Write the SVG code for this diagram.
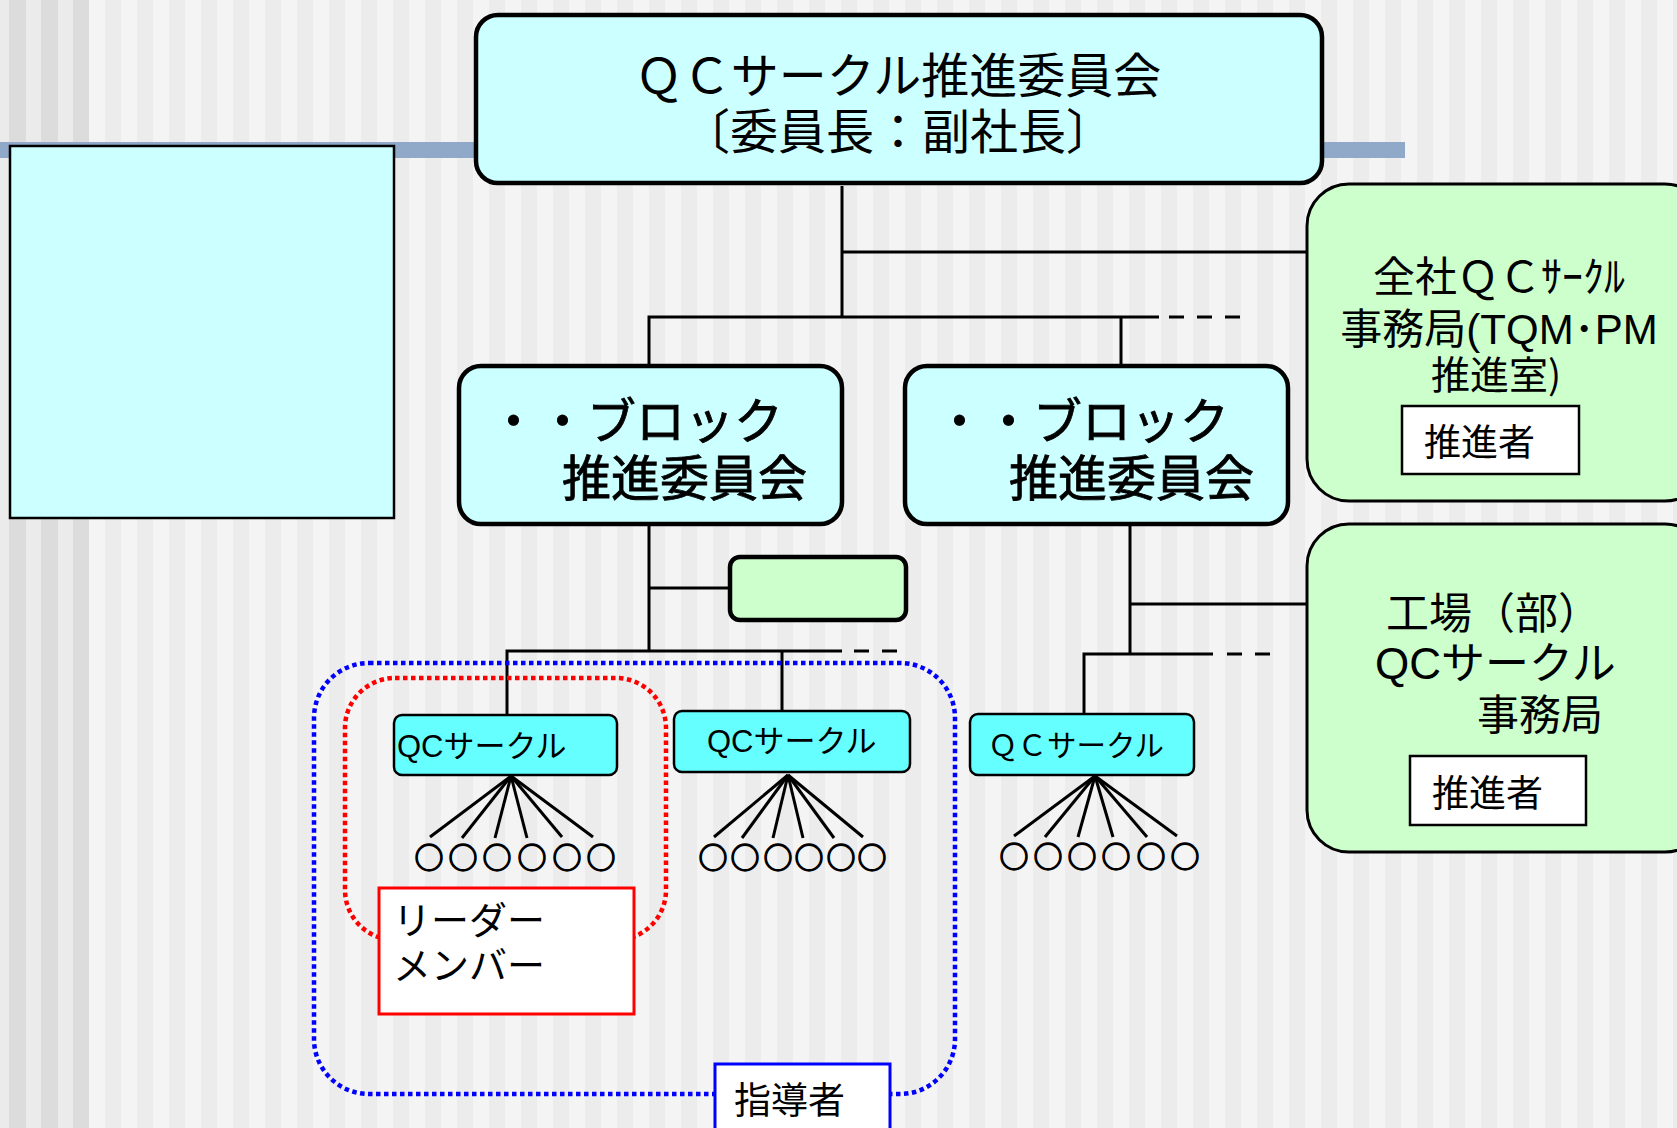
<svg xmlns="http://www.w3.org/2000/svg" width="1677" height="1128" viewBox="0 0 1677 1128">
<defs>
<pattern id="stripes" x="89" y="0" width="32" height="1128" patternUnits="userSpaceOnUse"><rect width="16" height="1128" fill="#f4f4f4"/><rect x="16" width="16" height="1128" fill="#ececec"/></pattern>
<pattern id="dstripes" x="9" y="0" width="32" height="1128" patternUnits="userSpaceOnUse"><rect width="17" height="1128" fill="#dcdcdc"/><rect x="17" width="15" height="1128" fill="#ebebeb"/></pattern>
</defs>
<style>
text{font-family:"Noto Sans CJK JP",sans-serif;fill:#000}
.lat{font-family:"Liberation Sans","Noto Sans CJK JP",sans-serif}
.bold{stroke:#000;stroke-width:0.8}
.conn path,.conn line{stroke:#000;stroke-width:3;fill:none}
.dash{stroke-dasharray:15 13}
.cyan{fill:#ccffff;stroke:#000}
.green{fill:#ccffcc;stroke:#000}
.qc{fill:#66ffff;stroke:#000;stroke-width:2.5}
.white{fill:#fff;stroke:#000;stroke-width:2.5}
.dot{fill:none;stroke-width:4.5;stroke-dasharray:4.5 3.5}
.mem{font-weight:700;font-size:29px;text-anchor:middle;stroke:#000;stroke-width:1.3}
</style>
<rect width="1677" height="1128" fill="url(#stripes)"/>
<rect width="89" height="1128" fill="#ebebeb"/>
<rect x="9" width="80" height="1128" fill="url(#dstripes)"/>
<rect x="0" y="142" width="1405" height="16" fill="#91a9c9"/>

<g id="left-box"><rect x="10" y="146" width="384" height="372" class="cyan" stroke-width="2.5"/></g>

<g id="connectors" class="conn">
<path d="M842 186V317"/>
<path d="M842 252H1306"/>
<path d="M649 365V317H1159"/>
<path d="M1121 317V365"/>
<line x1="1169" y1="317" x2="1243" y2="317" class="dash"/>
<path d="M649 525V651"/>
<path d="M649 588H729"/>
<path d="M507 714V651H842"/>
<line x1="854" y1="651" x2="898" y2="651" class="dash"/>
<path d="M782 651V710"/>
<path d="M1130 525V654"/>
<path d="M1130 604H1306"/>
<path d="M1084 713V654H1213"/>
<line x1="1227" y1="654" x2="1271" y2="654" class="dash"/>
<g style="stroke-width:2.5">
<line x1="511" y1="776" x2="430" y2="837"/><line x1="511" y1="776" x2="462" y2="838"/><line x1="511" y1="776" x2="495" y2="838"/><line x1="511" y1="776" x2="527" y2="838"/><line x1="511" y1="776" x2="562" y2="837"/><line x1="511" y1="776" x2="593" y2="837"/>
<line x1="788" y1="775" x2="714" y2="837"/><line x1="788" y1="775" x2="742" y2="838"/><line x1="788" y1="775" x2="773" y2="838"/><line x1="788" y1="775" x2="803" y2="838"/><line x1="788" y1="775" x2="834" y2="838"/><line x1="788" y1="775" x2="863" y2="837"/>
<line x1="1095" y1="776" x2="1014" y2="836"/><line x1="1095" y1="776" x2="1045" y2="837"/><line x1="1095" y1="776" x2="1078" y2="837"/><line x1="1095" y1="776" x2="1113" y2="837"/><line x1="1095" y1="776" x2="1147" y2="837"/><line x1="1095" y1="776" x2="1177" y2="836"/>
</g>
</g>

<g id="guide-area"><rect x="314" y="663" width="641" height="431" rx="55" class="dot" stroke="#0000ff"/></g>
<g id="leader-area"><rect x="345" y="678" width="321" height="262" rx="50" class="dot" stroke="#ff0000"/></g>

<g id="top-committee">
<rect x="476" y="15" width="846" height="168" rx="22" class="cyan" stroke-width="4.5"/>
<text x="898" y="93" font-size="48" text-anchor="middle">ＱＣサークル推進委員会</text>
<text x="898" y="149" font-size="48" text-anchor="middle">〔委員長：副社長〕</text>
</g>

<g id="company-office">
<rect x="1307" y="184" width="400" height="317" rx="42" class="green" stroke-width="3"/>
<text x="1499" y="292" font-size="42" text-anchor="middle" class="lat">全社ＱＣｻｰｸﾙ</text>
<text x="1499" y="344" font-size="42" text-anchor="middle" class="lat">事務局(TQM･PM</text>
<text x="1496" y="389" font-size="39" text-anchor="middle">推進室)</text>
<rect x="1402" y="406" width="177" height="68" class="white"/>
<text x="1424" y="456" font-size="37">推進者</text>
</g>

<g id="factory-office">
<rect x="1307" y="524" width="400" height="328" rx="42" class="green" stroke-width="3"/>
<text x="1386" y="629" font-size="43">工場（部）</text>
<text x="1375" y="679" font-size="44" class="lat">QCサークル</text>
<text x="1477" y="730" font-size="42">事務局</text>
<rect x="1410" y="756" width="176" height="69" class="white"/>
<text x="1432" y="807" font-size="37">推進者</text>
</g>

<g id="block1">
<rect x="459" y="366" width="383" height="158" rx="22" class="cyan" stroke-width="4.5"/>
<text x="489" y="439" font-size="49" class="bold">・・ブロック</text>
<text x="562" y="496" font-size="49" class="bold">推進委員会</text>
</g>

<g id="block2">
<rect x="905" y="366" width="383" height="158" rx="22" class="cyan" stroke-width="4.5"/>
<text x="935" y="439" font-size="49" class="bold">・・ブロック</text>
<text x="1009" y="496" font-size="49" class="bold">推進委員会</text>
</g>

<g id="small-green"><rect x="730" y="557" width="176" height="63" rx="10" class="green" stroke-width="4.5"/></g>

<g id="qc1">
<rect x="394" y="715" width="223" height="60" rx="8" class="qc"/>
<text x="397" y="757" font-size="31" class="lat">QCサークル</text>
<text x="429 463 497 532 567 601" y="869" class="mem">○○○○○○</text>
</g>
<g id="qc2">
<rect x="674" y="711" width="236" height="61" rx="8" class="qc"/>
<text x="707" y="752" font-size="31" class="lat">QCサークル</text>
<text x="713 745 778 809 841 872" y="869" class="mem">○○○○○○</text>
</g>
<g id="qc3">
<rect x="970" y="714" width="224" height="61" rx="8" class="qc"/>
<text x="988" y="756" font-size="29.5">ＱＣサークル</text>
<text x="1014 1048 1082 1116 1151 1185" y="868" class="mem">○○○○○○</text>
</g>

<g id="leader-member">
<rect x="379" y="888" width="255" height="126" fill="#fff" stroke="#ff0000" stroke-width="3"/>
<text x="393" y="934" font-size="38">リーダー</text>
<text x="393" y="979" font-size="38">メンバー</text>
</g>

<g id="instructor">
<rect x="715" y="1064" width="175" height="80" fill="#fff" stroke="#0000ff" stroke-width="3"/>
<text x="734" y="1114" font-size="37">指導者</text>
</g>
</svg>
